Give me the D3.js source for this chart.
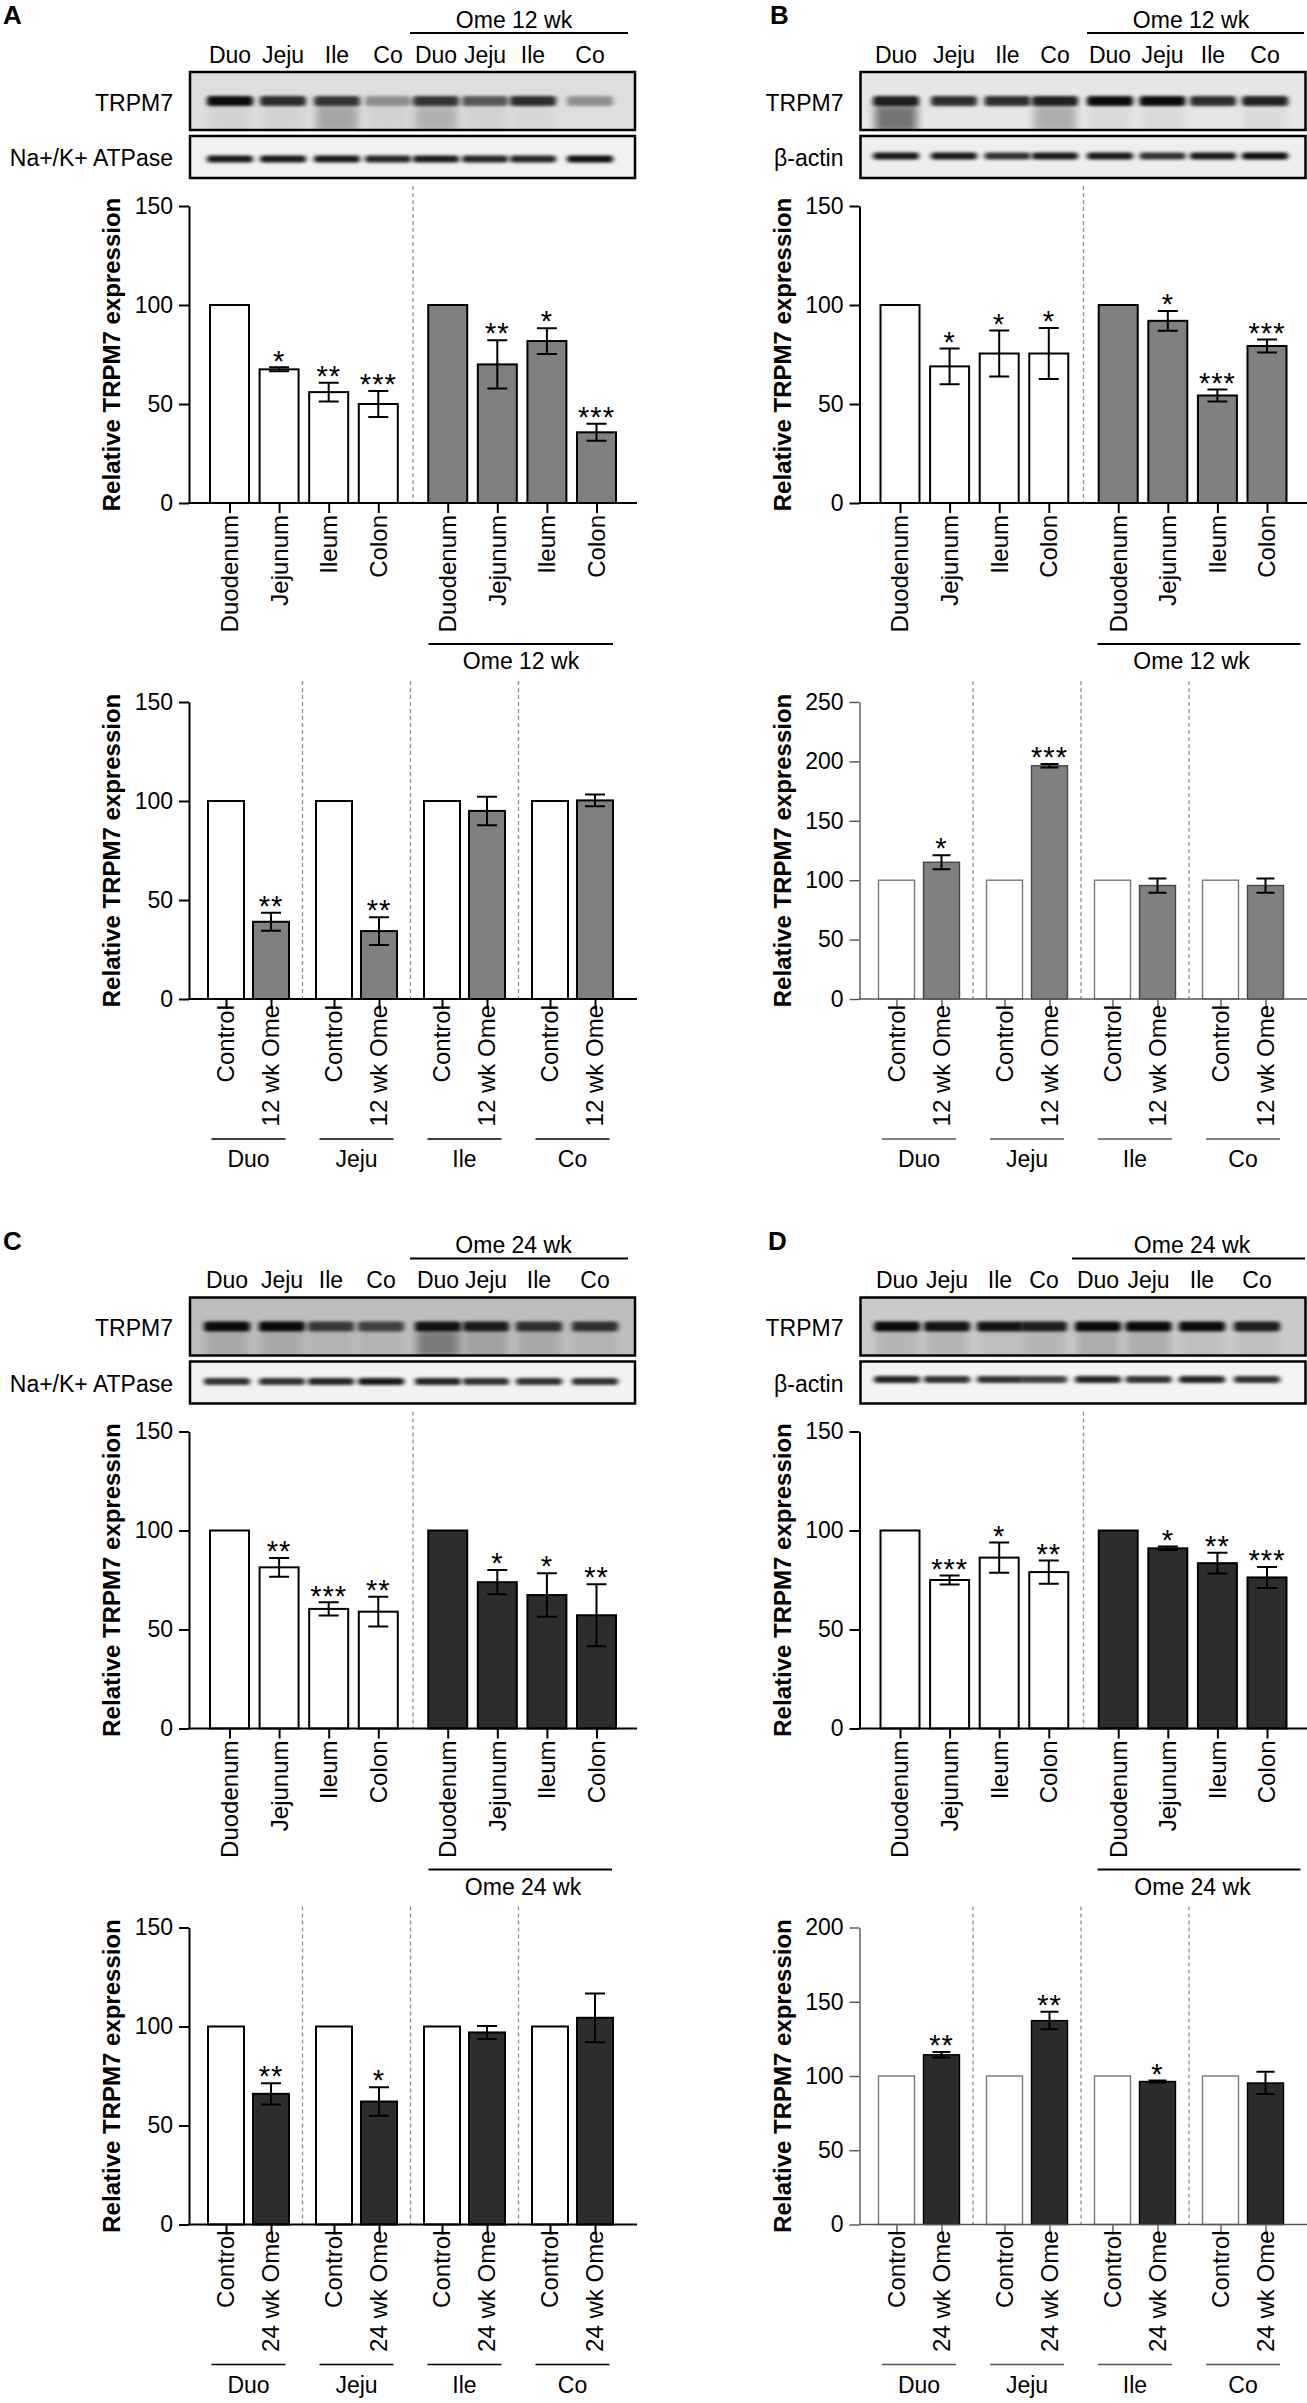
<!DOCTYPE html>
<html>
<head>
<meta charset="utf-8">
<script src="https://cdn.jsdelivr.net/npm/d3@7"></script>
<style>
  body { margin: 0; background: #fff; }
  text { font-family: "Liberation Sans", Arial, Helvetica, sans-serif; fill: #000; }
</style>
</head>
<body>
<svg id="fig" width="1307" height="2403"></svg>
<script>
// ---- data ----
const regions = ["Duodenum", "Jejunum", "Ileum", "Colon"];
const laneLabels = ["Duo", "Jeju", "Ile", "Co"];
const ticks150 = [0, 50, 100, 150];
const ticks200 = [0, 50, 100, 150, 200];
const ticks250 = [0, 50, 100, 150, 200, 250];

// A: 12 wk, Na+/K+ ATPase
const aCtrl = [100, 67.5, 56, 50];
const aCtrlErr = [0, 1, 4.7, 6.6];
const aCtrlSig = ["", "*", "**", "***"];
const aOme = [100, 70, 81.8, 35.7];
const aOmeErr = [0, 12.2, 6.5, 4.3];
const aOmeSig = ["", "**", "*", "***"];
const aPairOme = [39, 34.3, 95, 100.3];
const aPairErr = [4.5, 7, 7.2, 3];
const aPairSig = ["**", "**", "", ""];

// B: 12 wk, beta-actin
const bCtrl = [100, 69, 75.5, 75.5];
const bCtrlErr = [0, 9, 11.6, 12.9];
const bCtrlSig = ["", "*", "*", "*"];
const bOme = [100, 92, 54.3, 79.3];
const bOmeErr = [0, 5, 3, 3.3];
const bOmeSig = ["", "*", "***", "***"];
const bPairOme = [115.1, 196.3, 95.5, 95.5];
const bPairErr = [5.9, 1.5, 6, 6];
const bPairSig = ["*", "***", "", ""];

// C: 24 wk, Na+/K+ ATPase
const cCtrl = [100, 81.4, 60.4, 59];
const cCtrlErr = [0, 4.7, 3.3, 7.5];
const cCtrlSig = ["", "**", "***", "**"];
const cOme = [100, 73.9, 67.4, 57.2];
const cOmeErr = [0, 6.1, 11, 15.7];
const cOmeSig = ["", "*", "*", "**"];
const cPairOme = [66, 62.1, 97, 104.4];
const cPairErr = [5.4, 7.2, 3.3, 12.3];
const cPairSig = ["**", "*", "", ""];

// D: 24 wk, beta-actin
const dCtrl = [100, 75, 86.3, 79];
const dCtrlErr = [0, 2.3, 7.7, 5.9];
const dCtrlSig = ["", "***", "*", "**"];
const dOme = [100, 91, 83.5, 76.3];
const dOmeErr = [0, 0.9, 5.2, 5.3];
const dOmeSig = ["", "*", "**", "***"];
const dPairOme = [114.3, 137.3, 96.3, 95.3];
const dPairErr = [1.9, 5.9, 0.6, 7.5];
const dPairSig = ["**", "**", "*", ""];

// blot band darkness per lane (Duo Jeju Ile Co, then Ome lanes), smear below the band
const aTrpm7Band = [0.95, 0.8, 0.75, 0.35, 0.75, 0.6, 0.8, 0.35];
const aTrpm7Smear = [0.05, 0.05, 0.25, 0.05, 0.2, 0.05, 0.03, 0];
const aLoadBand = [0.9, 0.9, 0.9, 0.85, 0.9, 0.85, 0.85, 0.95];
const bTrpm7Band = [0.85, 0.8, 0.8, 0.85, 0.95, 0.95, 0.8, 0.85];
const bTrpm7Smear = [0.5, 0, 0, 0.25, 0.05, 0.05, 0, 0.05];
const bLoadBand = [0.9, 0.9, 0.8, 0.9, 0.9, 0.8, 0.9, 0.95];
const cTrpm7Band = [0.95, 0.95, 0.7, 0.65, 0.9, 0.85, 0.75, 0.75];
const cTrpm7Smear = [0.1, 0.1, 0.05, 0.05, 0.35, 0.15, 0.1, 0.05];
const cLoadBand = [0.8, 0.8, 0.85, 0.9, 0.85, 0.8, 0.8, 0.8];
const dTrpm7Band = [0.95, 0.9, 0.9, 0.85, 0.95, 0.95, 0.95, 0.85];
const dTrpm7Smear = [0.1, 0.1, 0.05, 0.1, 0.15, 0.15, 0.05, 0.05];
const dLoadBand = [0.85, 0.8, 0.8, 0.75, 0.85, 0.8, 0.85, 0.8];

const FONT = '"Liberation Sans", Arial, Helvetica, sans-serif';
const svg = d3.select("#fig");

const defs = svg.append("defs");
defs.append("filter")
  .attr("id", "blur").attr("x", "-20%").attr("y", "-150%")
  .attr("width", "140%").attr("height", "400%")
  .append("feGaussianBlur").attr("stdDeviation", "2.6 1.6");
defs.append("filter")
  .attr("id", "soft").attr("x", "-30%").attr("y", "-50%")
  .attr("width", "160%").attr("height", "200%")
  .append("feGaussianBlur").attr("stdDeviation", "4 4");

let clipCount = 0;

// western blot strip: grey box with blurred bands
function blot(g, b) {
  const id = "clip" + (clipCount++);
  g.append("clipPath").attr("id", id)
    .append("rect").attr("x", b.x).attr("y", b.y).attr("width", b.w).attr("height", b.h);
  const inner = g.append("g").attr("clip-path", `url(#${id})`);
  inner.append("rect")
    .attr("x", b.x).attr("y", b.y).attr("width", b.w).attr("height", b.h)
    .attr("fill", b.bg);
  if (b.smear) {
    inner.selectAll(null)
      .data(b.smear)
      .join("rect")
      .attr("x", (d, i) => b.lanes[i] - 21)
      .attr("y", b.bandY + 3)
      .attr("width", 42)
      .attr("height", b.y + b.h - b.bandY)
      .attr("fill", "#000")
      .attr("opacity", d => d)
      .attr("filter", "url(#soft)");
  }
  inner.selectAll(null)
    .data(b.vals)
    .join("rect")
    .attr("x", (d, i) => b.lanes[i] - 23)
    .attr("y", b.bandY - b.bandH / 2)
    .attr("width", 46)
    .attr("height", b.bandH)
    .attr("rx", 3)
    .attr("fill", "#000")
    .attr("opacity", d => d)
    .attr("filter", "url(#blur)");
  g.append("rect")
    .attr("x", b.x).attr("y", b.y).attr("width", b.w).attr("height", b.h)
    .attr("fill", "none").attr("stroke", "#000").attr("stroke-width", 2.5);
}

function yAxis(g, y, axisX, ticks, st) {
  const ax = g.append("g")
    .attr("transform", `translate(${axisX},0)`)
    .call(d3.axisLeft(y).tickValues(ticks).tickSize(10).tickSizeOuter(0).tickPadding(6));
  ax.attr("font-size", 23).attr("font-family", FONT);
  ax.selectAll("path,line").attr("stroke", st.axis).attr("stroke-width", st.axisW);
  ax.selectAll("text").attr("fill", "#000");
}

function xAxis(g, x, y0, axisX, xEnd, slots, st) {
  const ax = g.append("g")
    .attr("transform", `translate(0,${y0})`)
    .call(d3.axisBottom(x).tickValues(slots).tickFormat("").tickSize(10).tickSizeOuter(0));
  ax.select(".domain").remove();
  ax.selectAll("line").attr("stroke", st.axis).attr("stroke-width", st.axisW);
  g.append("line")
    .attr("x1", axisX - st.axisW / 2).attr("x2", xEnd)
    .attr("y1", y0).attr("y2", y0)
    .attr("stroke", st.axis).attr("stroke-width", st.axisW);
}

function yTitle(g, x, y) {
  const r = y.range();
  g.append("text")
    .attr("transform", `translate(${x},${(r[0] + r[1]) / 2}) rotate(-90)`)
    .attr("text-anchor", "middle")
    .attr("font-size", 24)
    .attr("font-weight", "bold")
    .text("Relative TRPM7 expression");
}

function drawBars(g, rows, x, y, bw, st) {
  g.selectAll(null)
    .data(rows)
    .join("rect")
    .attr("x", d => x(d.slot) - bw / 2)
    .attr("y", d => y(d.v))
    .attr("width", bw)
    .attr("height", d => y(0) - y(d.v))
    .attr("fill", d => d.ome ? st.omeFill : "#fff")
    .attr("stroke", d => d.ome ? st.omeStroke : st.ctrlStroke)
    .attr("stroke-width", st.barW);

  const eb = rows.filter(d => d.e > 0);
  g.selectAll(null)
    .data(eb)
    .join("path")
    .attr("d", d => {
      const cx = x(d.slot), t = y(d.v + d.e), b = y(d.v - d.e), c = st.cap;
      return `M${cx - c},${t}H${cx + c}M${cx},${t}V${b}M${cx - c},${b}H${cx + c}`;
    })
    .attr("fill", "none")
    .attr("stroke", "#000")
    .attr("stroke-width", 2);

  // asterisks: place, then nudge so the glyph sits just above the error cap
  g.selectAll(null)
    .data(rows.filter(d => d.s))
    .join("text")
    .attr("x", d => x(d.slot))
    .attr("y", d => y(d.v + d.e))
    .attr("text-anchor", "middle")
    .attr("font-size", 29)
    .attr("letter-spacing", 1)
    .text(d => d.s)
    .each(function (d) {
      const box = this.getBBox();
      const target = y(d.v + d.e) - 3;
      const glyphBottom = box.y + box.height * 0.62;
      d3.select(this).attr("y", y(d.v + d.e) + (target - glyphBottom));
    });
}

function dashed(g, xv, top, bottom) {
  g.append("line")
    .attr("x1", xv).attr("x2", xv).attr("y1", top).attr("y2", bottom)
    .attr("stroke", "#8c8c8c").attr("stroke-width", 1.3)
    .attr("stroke-dasharray", "4,3");
}

// chart comparing four regions for control and omeprazole
function topChart(g, p) {
  const st = p.topStyle;
  const y0 = 503 + p.oy;
  const y = d3.scaleLinear().domain([0, 150]).range([y0, y0 - 297]);
  const x = d3.scaleLinear().domain([0, 7.4]).range([229.5 + p.ox, 596.5 + p.ox]);
  const axisX = 189 + p.ox;
  const rows = regions.map((r, i) => ({ name: r, slot: i, v: p.ctrl[i], e: p.ctrlErr[i], s: p.ctrlSig[i], ome: false }))
    .concat(regions.map((r, i) => ({ name: r, slot: i + 4.4, v: p.ome[i], e: p.omeErr[i], s: p.omeSig[i], ome: true })));

  dashed(g, x(3.7), 186 + p.oy, y0);
  drawBars(g, rows, x, y, 39, st);
  yAxis(g, y, axisX, ticks150, st);
  xAxis(g, x, y0, axisX, 637 + p.ox, rows.map(d => d.slot), st);
  yTitle(g, 120 + p.ox, y);

  g.selectAll(null)
    .data(rows)
    .join("text")
    .attr("transform", d => `translate(${x(d.slot)},${y0 + 12}) rotate(-90)`)
    .attr("text-anchor", "end")
    .attr("dy", "0.35em")
    .attr("font-size", 24)
    .text(d => d.name);

  g.append("line")
    .attr("x1", p.lowLine[0]).attr("x2", p.lowLine[1])
    .attr("y1", 644 + p.oy).attr("y2", 644 + p.oy)
    .attr("stroke", "#000").attr("stroke-width", 2);
  g.append("text")
    .attr("x", p.lowText).attr("y", 669 + p.oy)
    .attr("text-anchor", "middle").attr("font-size", 23)
    .text(`Ome ${p.wk} wk`);
}

// chart pairing control and omeprazole in each region
function pairChart(g, p) {
  const st = p.pairStyle;
  const y0 = 999 + p.oy;
  const y = d3.scaleLinear().domain([0, p.pairMax]).range([y0, y0 - 297]);
  const x = d3.scaleLinear().domain([0, 8.2]).range([226 + p.ox, 595 + p.ox]);
  const axisX = 189 + p.ox;
  const rows = [];
  regions.forEach((r, i) => {
    rows.push({ name: "Control", slot: i * 2.4, v: 100, e: 0, s: "", ome: false });
    rows.push({ name: `${p.wk} wk Ome`, slot: i * 2.4 + 1, v: p.pairOme[i], e: p.pairErr[i], s: p.pairSig[i], ome: true });
  });

  [1.7, 4.1, 6.5].forEach(s => dashed(g, x(s), 681 + p.oy, y0));
  drawBars(g, rows, x, y, 36, st);
  yAxis(g, y, axisX, p.pairTicks, st);
  xAxis(g, x, y0, axisX, 637 + p.ox, rows.map(d => d.slot), st);
  yTitle(g, 120 + p.ox, y);

  g.selectAll(null)
    .data(rows)
    .join("text")
    .attr("transform", d => `translate(${x(d.slot)},${y0 + 6}) rotate(-90)`)
    .attr("text-anchor", "end")
    .attr("dy", "0.35em")
    .attr("font-size", 24)
    .text(d => d.name);

  const groups = laneLabels.map((l, i) => ({ l, cx: (x(i * 2.4) + x(i * 2.4 + 1)) / 2 }));
  g.selectAll(null)
    .data(groups)
    .join("line")
    .attr("x1", d => d.cx - 37).attr("x2", d => d.cx + 37)
    .attr("y1", y0 + 140).attr("y2", y0 + 140)
    .attr("stroke", st.axis).attr("stroke-width", 1.6);
  g.selectAll(null)
    .data(groups)
    .join("text")
    .attr("x", d => d.cx).attr("y", y0 + 168)
    .attr("text-anchor", "middle").attr("font-size", 23)
    .text(d => d.l);
}

function drawPanel(p) {
  const g = svg.append("g");
  g.append("text")
    .attr("x", p.letterX).attr("y", 24 + p.oy)
    .attr("font-size", 26).attr("font-weight", "bold")
    .text(p.key);

  g.append("line")
    .attr("x1", p.topLine[0]).attr("x2", p.topLine[1])
    .attr("y1", 33 + p.oy).attr("y2", 33 + p.oy)
    .attr("stroke", "#000").attr("stroke-width", 2);
  g.append("text")
    .attr("x", p.topText).attr("y", 27.5 + p.oy)
    .attr("text-anchor", "middle").attr("font-size", 23)
    .text(`Ome ${p.wk} wk`);

  g.selectAll(null)
    .data(p.lanes)
    .join("text")
    .attr("x", d => d).attr("y", 62.5 + p.oy)
    .attr("text-anchor", "middle").attr("font-size", 23)
    .text((d, i) => laneLabels[i % 4]);

  blot(g, { x: 190 + p.ox, y: 72 + p.oy, w: 445, h: 58, bg: p.trpBg, lanes: p.lanes, vals: p.trpm7, smear: p.smear, bandY: 101 + p.oy, bandH: 10 });
  blot(g, { x: 190 + p.ox, y: 136 + p.oy, w: 445, h: 42, bg: p.loadBg, lanes: p.lanes, vals: p.load, bandY: p.loadY + p.oy, bandH: 7 });

  g.append("text")
    .attr("x", 173 + p.ox).attr("y", 102.5 + p.oy)
    .attr("text-anchor", "end").attr("dy", "0.35em").attr("font-size", 23)
    .text("TRPM7");
  g.append("text")
    .attr("x", 173 + p.ox).attr("y", 158 + p.oy)
    .attr("text-anchor", "end").attr("dy", "0.35em").attr("font-size", 23)
    .text(p.loading);

  topChart(g, p);
  pairChart(g, p);
}

const boldStyle = (fill) => ({ axis: "#000", axisW: 2, barW: 2, ctrlStroke: "#000", omeStroke: "#000", omeFill: fill, cap: 10 });
const thinStyle = (fill, omeStroke) => ({ axis: "#555", axisW: 1.4, barW: 1.4, ctrlStroke: "#777", omeStroke: omeStroke, omeFill: fill, cap: 9 });

const panels = [
  { key: "A", letterX: 3, ox: 0, oy: 0, wk: "12", loading: "Na+/K+ ATPase",
    ctrl: aCtrl, ctrlErr: aCtrlErr, ctrlSig: aCtrlSig, ome: aOme, omeErr: aOmeErr, omeSig: aOmeSig,
    pairOme: aPairOme, pairErr: aPairErr, pairSig: aPairSig, pairMax: 150, pairTicks: ticks150,
    lanes: [230, 283, 337, 388, 436, 485, 533, 590], trpm7: aTrpm7Band, smear: aTrpm7Smear, load: aLoadBand,
    trpBg: "#dedede", loadBg: "#f1f1f1", loadY: 159,
    topLine: [410, 628], topText: 514, lowLine: [428.5, 613], lowText: 521,
    topStyle: boldStyle("#808080"), pairStyle: boldStyle("#808080") },
  { key: "B", letterX: 770, ox: 670.5, oy: 0, wk: "12", loading: "β-actin",
    ctrl: bCtrl, ctrlErr: bCtrlErr, ctrlSig: bCtrlSig, ome: bOme, omeErr: bOmeErr, omeSig: bOmeSig,
    pairOme: bPairOme, pairErr: bPairErr, pairSig: bPairSig, pairMax: 250, pairTicks: ticks250,
    lanes: [896, 954, 1007.5, 1055, 1110, 1162.5, 1213, 1265], trpm7: bTrpm7Band, smear: bTrpm7Smear, load: bLoadBand,
    trpBg: "#e6e6e6", loadBg: "#eeeeee", loadY: 156,
    topLine: [1087, 1304], topText: 1191, lowLine: [1097.5, 1300.5], lowText: 1191.5,
    topStyle: boldStyle("#808080"), pairStyle: thinStyle("#808080", "#444") },
  { key: "C", letterX: 3, ox: 0, oy: 1225.5, wk: "24", loading: "Na+/K+ ATPase",
    ctrl: cCtrl, ctrlErr: cCtrlErr, ctrlSig: cCtrlSig, ome: cOme, omeErr: cOmeErr, omeSig: cOmeSig,
    pairOme: cPairOme, pairErr: cPairErr, pairSig: cPairSig, pairMax: 150, pairTicks: ticks150,
    lanes: [227, 282, 331, 381, 438, 486, 539, 595], trpm7: cTrpm7Band, smear: cTrpm7Smear, load: cLoadBand,
    trpBg: "#bdbdbd", loadBg: "#f2f2f2", loadY: 156,
    topLine: [410, 628], topText: 513.5, lowLine: [428.5, 612], lowText: 523,
    topStyle: boldStyle("#2d2d2d"), pairStyle: boldStyle("#2d2d2d") },
  { key: "D", letterX: 768, ox: 670.5, oy: 1225.5, wk: "24", loading: "β-actin",
    ctrl: dCtrl, ctrlErr: dCtrlErr, ctrlSig: dCtrlSig, ome: dOme, omeErr: dOmeErr, omeSig: dOmeSig,
    pairOme: dPairOme, pairErr: dPairErr, pairSig: dPairSig, pairMax: 200, pairTicks: ticks200,
    lanes: [897, 947, 1000, 1044, 1098, 1148.5, 1202, 1257], trpm7: dTrpm7Band, smear: dTrpm7Smear, load: dLoadBand,
    trpBg: "#cacaca", loadBg: "#f4f4f4", loadY: 154,
    topLine: [1072, 1305], topText: 1192, lowLine: [1097.5, 1300.5], lowText: 1192.5,
    topStyle: boldStyle("#2d2d2d"), pairStyle: thinStyle("#2b2b2b", "#000") }
];

panels.forEach(drawPanel);
</script>
</body>
</html>
